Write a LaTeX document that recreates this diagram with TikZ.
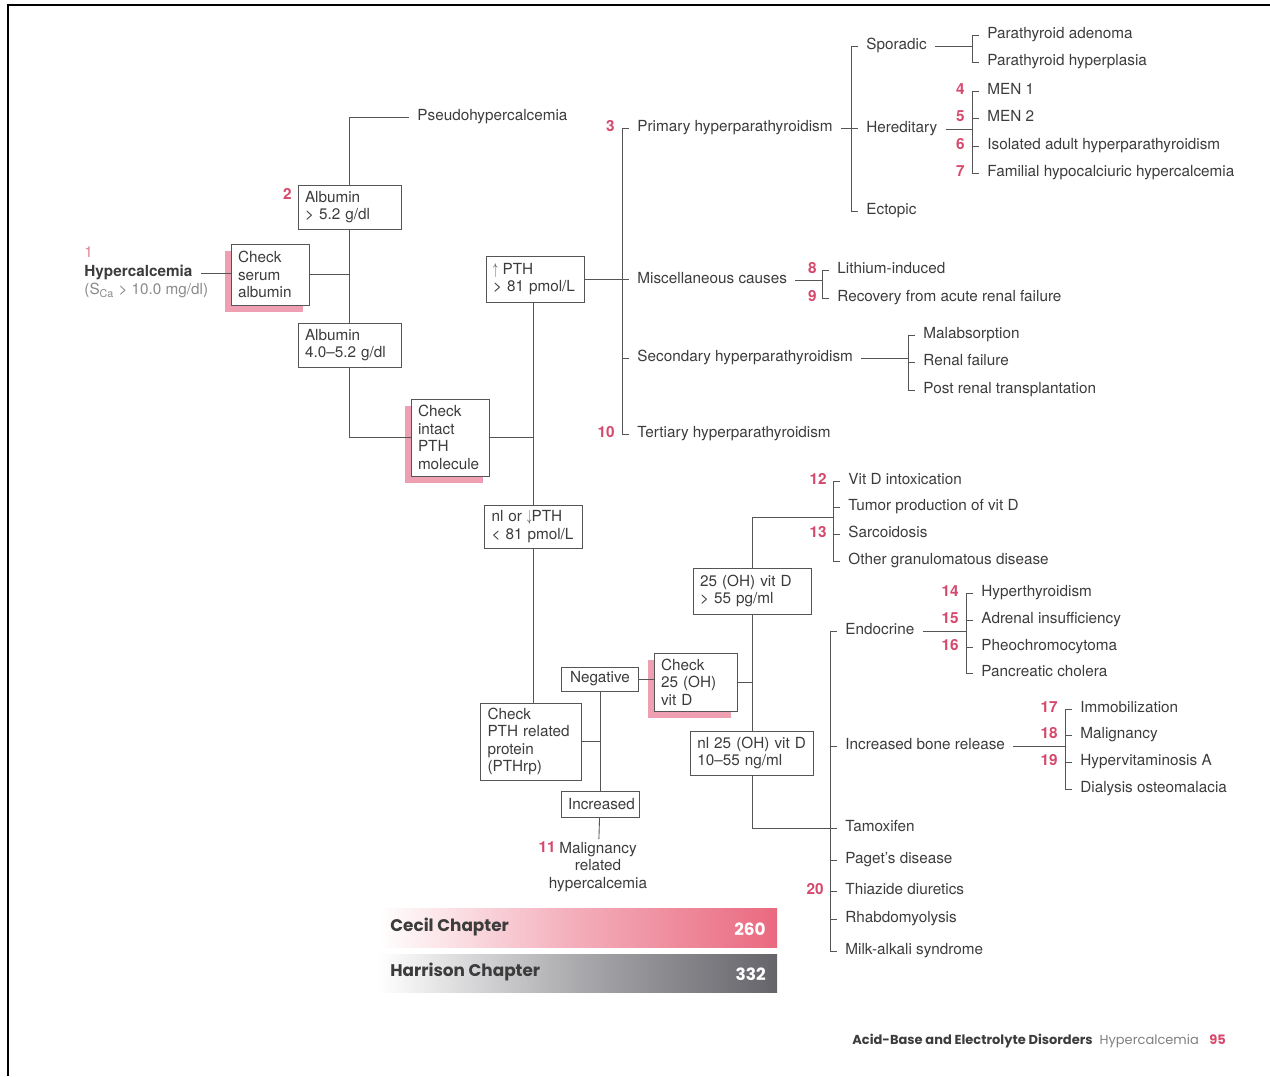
\documentclass[tikz,border=0pt]{standalone}
\usepackage{fontspec}
\setmainfont{TeX Gyre Heros}
\newfontfamily\barfont{Poppins}
\usetikzlibrary{shadows}
\definecolor{numpink}{RGB}{214,72,108}
\definecolor{shpink}{RGB}{238,160,178}
\definecolor{txtgray}{RGB}{60,60,60}
\definecolor{lngray}{RGB}{85,85,85}
\definecolor{barpink}{RGB}{234,105,128}
\definecolor{bargray}{RGB}{100,100,106}
\newcommand{\up}{\scalebox{0.55}[1]{$\uparrow$}}
\newcommand{\down}{\scalebox{0.55}[1]{$\downarrow$}}
\begin{document}
\begin{tikzpicture}[x=0.2mm,y=-0.2mm,color=lngray,line width=0.5pt,
  every node/.style={font=\fontsize{8.7}{10}\selectfont, text=txtgray},
  box/.style={draw, fill=white, align=left, inner xsep=1.4mm, inner ysep=0pt},
  sbox/.style={box, general shadow={fill=shpink, shadow xshift=-1.2mm, shadow yshift=-1.4mm}},
  lbl/.style={anchor=west, inner xsep=1.6mm, inner ysep=0.5mm, text height=6.3pt, text depth=1.9pt},
  num/.style={anchor=east, inner sep=0pt, text height=6.3pt, text depth=1.9pt, text=numpink, font=\fontsize{8.7}{10}\selectfont\bfseries},
  chap/.style={font=\barfont\bfseries\fontsize{9.6}{12}\selectfont}]
\useasboundingbox (0,0) rectangle (1270,1076);
\draw[black, line width=0.5mm] (8,1076) -- (8,5) -- (1270,5);

\node[lbl, font=\fontsize{8.7}{10}\selectfont\bfseries] (hyper) at (76,273) {Hypercalcemia};
\node[lbl, text=numpink!70] (n1) at (76,254) {1};
\node[lbl, text=txtgray!60] (sca) at (76,291) {(S\textsubscript{Ca} > 10.0 mg/dl)};
\node[sbox, text width=12.8mm, minimum height=12.2mm] (serum) at (270,274.5) {Check\\serum\\albumin};
\node[box, text width=17.8mm, minimum height=8.8mm] (alb52) at (349.5,207) {Albumin\\> 5.2 g/dl};
\node[num] (n2) at (292,196) {2};
\node[box, text width=17.8mm, minimum height=8.8mm] (alb40) at (349.5,345) {Albumin\\4.0--5.2 g/dl};
\node[lbl] (pseudo) at (409,117) {Pseudohypercalcemia};
\node[sbox, text width=12.8mm, minimum height=15.4mm] (intact) at (450,437.5) {Check\\intact\\PTH\\molecule};
\node[box, text width=16.8mm, minimum height=9.2mm] (pthup) at (535,279) {\up\ PTH\\> 81 pmol/L};
\node[box, text width=16.8mm, minimum height=8.6mm] (pthnl) at (533.5,526.5) {nl or \down PTH\\< 81 pmol/L};
\node[box, text width=17.4mm, minimum height=15.4mm] (pthrp) at (531,741.5) {Check\\PTH related\\protein\\(PTHrp)};
\node[box, align=center, text width=12.6mm, minimum height=4.8mm] (neg) at (600,679) {Negative};
\node[box, align=center, text width=12.8mm, minimum height=5.2mm] (incr) at (600,804) {Increased};
\node[anchor=north, align=center, inner sep=0.5mm] (malrel) at (598,839) {Malignancy\\related\\hypercalcemia};
\node[num] (n11) at (556,849) {11};
\node[sbox, text width=13.8mm, minimum height=11.6mm] (chkd) at (695.5,682) {Check\\25 (OH)\\vit D};
\node[box, text width=20.8mm, minimum height=9.2mm] (vitdhi) at (752,591) {25 (OH) vit D\\> 55 pg/ml};
\node[box, text width=21.9mm, minimum height=8.8mm] (vitdnl) at (752,753) {nl 25 (OH) vit D\\10--55 ng/ml};
\coordinate (vdb) at (833,517);

\draw (hyper.east) -- (hyper.east -| serum.west);
\draw (alb52.north) |- (pseudo.west);
\draw (alb52) -- (alb40);
\draw (serum.east) -- (serum.east -| alb52.south);
\draw (alb40.south) |- (intact.west);
\draw (intact.east) -- (intact.east -| pthnl.north);
\draw (pthup.south -| pthnl.north) -- (pthnl.north);
\draw (pthnl.south) -- (pthnl.south |- pthrp.north);
\draw (pthrp.east) -- (pthrp.east -| neg.south);
\draw (neg) -- (incr);
\draw (incr) -- (malrel);
\draw (neg.east) -- (neg.east -| chkd.west);
\draw (chkd.east) -- (chkd.east -| vitdhi.south);
\draw (vitdhi) -- (vitdnl);
\draw (vitdhi.north) |- (vdb);

\node[lbl] (primary) at (629,128) {Primary hyperparathyroidism};
\node[num] (n3) at ([xshift=-2.8mm]primary.west) {3};
\node[lbl] (misc) at (629,280) {Miscellaneous causes};
\node[lbl] (secondary) at (629,358) {Secondary hyperparathyroidism};
\node[lbl] (tertiary) at (629,434) {Tertiary hyperparathyroidism};
\node[num] (n10) at ([xshift=-2.8mm]tertiary.west) {10};
\draw (primary.west) -- ++(-7,0) |- (tertiary.west);
\draw (secondary.west) -- ++(-7,0);
\draw (pthup.east) -- (pthup.east -| misc.west);

\node[lbl] (sporadic) at (858,46) {Sporadic};
\node[lbl] (hered) at (858,129) {Hereditary};
\node[lbl] (ectopic) at (858,211) {Ectopic};
\draw (sporadic.west) -- ++(-7,0) |- (ectopic.west);
\draw (primary.east) -- (primary.east -| hered.west);

\node[lbl] (adenoma) at (979,35) {Parathyroid adenoma};
\node[lbl] (hyperpl) at (979,62) {Parathyroid hyperplasia};
\draw (adenoma.west) -- ++(-7,0) |- (hyperpl.west);
\draw (sporadic.east) -- ([xshift=-1.4mm]adenoma.west |- sporadic.east);

\node[lbl] (men1) at (979,91) {MEN 1};
\node[lbl] (men2) at (979,118) {MEN 2};
\node[lbl] (isolated) at (979,146) {Isolated adult hyperparathyroidism};
\node[lbl] (familial) at (979,173) {Familial hypocalciuric hypercalcemia};
\node[num] (n4) at ([xshift=-2.8mm]men1.west) {4};
\node[num] (n5) at ([xshift=-2.8mm]men2.west) {5};
\node[num] (n6) at ([xshift=-2.8mm]isolated.west) {6};
\node[num] (n7) at ([xshift=-2.8mm]familial.west) {7};
\draw (men1.west) -- ++(-7,0) |- (familial.west);
\draw (men2.west) -- ++(-7,0);
\draw (isolated.west) -- ++(-7,0);
\draw (hered.east) -- ([xshift=-1.4mm]men1.west |- hered.east);

\node[lbl] (lithium) at (829,270) {Lithium-induced};
\node[lbl] (recovery) at (829,298) {Recovery from acute renal failure};
\node[num] (n8) at ([xshift=-2.4mm]lithium.west) {8};
\node[num] (n9) at ([xshift=-2.4mm]recovery.west) {9};
\draw (lithium.west) -- ++(-7,0) |- (recovery.west);
\draw (misc.east) -- ([xshift=-1.4mm]lithium.west |- misc.east);

\node[lbl] (malab) at (915,335) {Malabsorption};
\node[lbl] (renalf) at (915,362) {Renal failure};
\node[lbl] (postren) at (915,390) {Post renal transplantation};
\draw (malab.west) -- ++(-7,0) |- (postren.west);
\draw (renalf.west) -- ++(-7,0);
\draw (secondary.east) -- ([xshift=-1.4mm]malab.west |- secondary.east);

\node[lbl] (intox) at (840,481) {Vit D intoxication};
\node[lbl] (tumor) at (840,507) {Tumor production of vit D};
\node[lbl] (sarcoid) at (840,534) {Sarcoidosis};
\node[lbl] (granulo) at (840,561) {Other granulomatous disease};
\node[num] (n12) at ([xshift=-2.6mm]intox.west) {12};
\node[num] (n13) at ([xshift=-2.6mm]sarcoid.west) {13};
\draw (intox.west) -- ++(-7,0) |- (granulo.west);
\draw (tumor.west) -- ++(-7,0);
\draw (sarcoid.west) -- ++(-7,0);

\node[lbl] (endo) at (837,631) {Endocrine};
\node[lbl] (bone) at (837,746) {Increased bone release};
\node[lbl] (tamox) at (837,828) {Tamoxifen};
\node[lbl] (paget) at (837,860) {Paget's disease};
\node[lbl] (thiaz) at (837,891) {Thiazide diuretics};
\node[lbl] (rhabdo) at (837,919) {Rhabdomyolysis};
\node[lbl] (milk) at (837,951) {Milk-alkali syndrome};
\node[num] (n20) at ([xshift=-2.6mm]thiaz.west) {20};
\draw (endo.west) -- ++(-7,0) |- (milk.west);
\draw (bone.west) -- ++(-7,0);
\draw (paget.west) -- ++(-7,0);
\draw (thiaz.west) -- ++(-7,0);
\draw (rhabdo.west) -- ++(-7,0);
\draw (vitdnl.south) |- (tamox.west);

\node[lbl] (hyperthy) at (973,593) {Hyperthyroidism};
\node[lbl] (adrenal) at (973,620) {Adrenal insufficiency};
\node[lbl] (pheo) at (973,647) {Pheochromocytoma};
\node[lbl] (pancr) at (973,673) {Pancreatic cholera};
\node[num] (n14) at ([xshift=-2.8mm]hyperthy.west) {14};
\node[num] (n15) at ([xshift=-2.8mm]adrenal.west) {15};
\node[num] (n16) at ([xshift=-2.8mm]pheo.west) {16};
\draw (hyperthy.west) -- ++(-7,0) |- (pancr.west);
\draw (adrenal.west) -- ++(-7,0);
\draw (pheo.west) -- ++(-7,0);
\draw (endo.east) -- ([xshift=-1.4mm]hyperthy.west |- endo.east);

\node[lbl] (immob) at (1072,709) {Immobilization};
\node[lbl] (maligb) at (1072,735) {Malignancy};
\node[lbl] (hypervit) at (1072,762) {Hypervitaminosis A};
\node[lbl] (dialysis) at (1072,789) {Dialysis osteomalacia};
\node[num] (n17) at ([xshift=-2.8mm]immob.west) {17};
\node[num] (n18) at ([xshift=-2.8mm]maligb.west) {18};
\node[num] (n19) at ([xshift=-2.8mm]hypervit.west) {19};
\draw (immob.west) -- ++(-7,0) |- (dialysis.west);
\draw (maligb.west) -- ++(-7,0);
\draw (hypervit.west) -- ++(-7,0);
\draw (bone.east) -- ([xshift=-1.4mm]immob.west |- bone.east);

\shade[left color=white, right color=barpink, middle color=barpink!55] (378,908) rectangle (777,947);
\shade[left color=white, right color=bargray, middle color=bargray!55] (378,954) rectangle (777,992);
\node[chap, anchor=west] (cecil) at (384,927) {Cecil Chapter};
\node[chap, anchor=east, text=white] (cecilno) at (772,929) {260};
\node[chap, anchor=west] (harr) at (384,972) {Harrison Chapter};
\node[chap, anchor=east, text=white] (harrno) at (772,974) {332};
\node[anchor=east, font=\barfont\fontsize{7.4}{8}\selectfont] (foot) at (1232,1041) {{\bfseries Acid-Base and Electrolyte Disorders}\ \ {\color{gray}Hypercalcemia}\ \ \ {\color{numpink}\bfseries 95}};
\end{tikzpicture}
\end{document}
